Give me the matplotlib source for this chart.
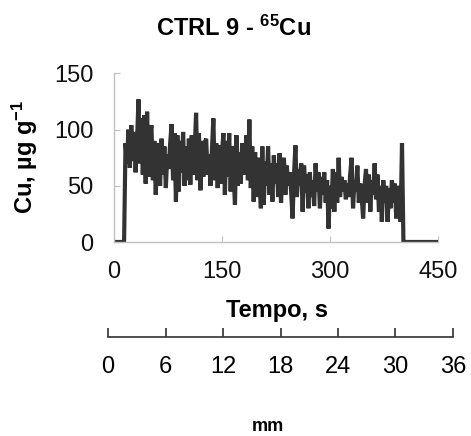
import numpy as np
import matplotlib
matplotlib.use('Agg')
import matplotlib.pyplot as plt

plt.rcParams['font.family'] = ['Liberation Sans', 'DejaVu Sans']
plt.rcParams['mathtext.fontset'] = 'custom'
plt.rcParams['mathtext.rm'] = 'Liberation Sans'
plt.rcParams['mathtext.bf'] = 'Liberation Sans:bold'

# Cu signal (ug/g), one reading every 2 s
cu_signal = [
    88, 70, 100, 66, 104,
    72, 98, 62, 90, 127,
    70, 110, 60, 113, 52,
    116, 58, 95, 104, 55,
    90, 42, 80, 88, 50,
    92, 60, 85, 48, 78,
    65, 88, 105, 55, 97,
    36, 95, 45, 90, 62,
    98, 50, 85, 55, 92,
    51, 95, 60, 80, 115,
    55, 97, 46, 90, 58,
    88, 92, 60, 78, 50,
    82, 110, 55, 88, 48,
    86, 52, 80, 97, 42,
    90, 58, 97, 45, 85,
    62, 33, 95, 50, 80,
    52, 88, 60, 75, 95,
    55, 109, 48, 85, 36,
    80, 40, 75, 55, 30,
    85, 33, 72, 50, 85,
    42, 70, 36, 77, 52,
    70, 40, 79, 35, 65,
    75, 42, 68, 50, 62,
    45, 21, 60, 86, 40,
    65, 50, 70, 27, 68,
    44, 60, 30, 62, 40,
    55, 32, 70, 45, 62,
    30, 58, 42, 62, 35,
    55, 12, 50, 30, 65,
    27, 62, 35, 75, 40,
    58, 45, 55, 38, 52,
    40, 60, 75, 30, 55,
    45, 68, 35, 52, 40,
    21, 50, 65, 35, 60,
    27, 55, 42, 70, 38,
    60, 27, 50, 18, 55,
    35, 50, 18, 48, 30,
    55, 35, 52, 21, 50,
    40, 18, 88,
]
# baseline before ablation starts and after it stops
cu = [0] * 8 + cu_signal + [0] * 25
tempo = np.arange(len(cu)) * 2

x_ticks = [0, 150, 300, 450]
y_ticks = [0, 50, 100, 150]
mm_ticks = [0, 6, 12, 18, 24, 30, 36]

W, H = 471, 436
fig = plt.figure(figsize=(W / 100, H / 100), dpi=100)
ax = fig.add_axes([114 / W, 1 - 242 / H, 324 / W, 168.5 / H])

ax.plot(tempo, cu, color='#333333', linewidth=3.0, solid_joinstyle='miter')

ax.set_xlim(0, 450)
ax.set_ylim(0, 150)
ax.set_xticks(x_ticks)
ax.set_yticks(y_ticks)
for s in ['top', 'right']:
    ax.spines[s].set_visible(False)
for s in ['left', 'bottom']:
    ax.spines[s].set_color('#c0c0c0')
    ax.spines[s].set_linewidth(1.0)
ax.tick_params(direction='in', length=4, color='#c0c0c0', labelsize=17,
               labelcolor='#111111')
ax.tick_params(axis='x', pad=14)
ax.tick_params(axis='y', pad=15)

fig.text(277 / W, 1 - 310 / H, 'Tempo, s', ha='center', va='center',
         fontsize=17, fontweight='bold')
fig.text(25 / W, 1 - 157 / H, r'Cu, µg g$\mathbf{^{-1}}$', ha='center',
         va='center', rotation=90, fontsize=17, fontweight='bold')
fig.text(233 / W, 1 - 28 / H, r'CTRL 9 - $\mathbf{^{65}}$Cu', ha='center',
         va='center', fontsize=17, fontweight='bold')

# second scale in mm under the time axis
ax2 = fig.add_axes([108 / W, 1 - 337 / H, 345 / W, 0.001])
ax2.set_xlim(0, 36)
ax2.set_xticks(mm_ticks)
ax2.set_yticks([])
for s in ['top', 'right', 'left']:
    ax2.spines[s].set_visible(False)
ax2.spines['bottom'].set_color('#404040')
ax2.spines['bottom'].set_linewidth(1.3)
ax2.tick_params(axis='x', direction='in', length=6.5, width=1.3,
                color='#404040', labelsize=17, pad=14)
ax2.patch.set_visible(False)

fig.text(268 / W, 1 - 426 / H, 'mm', ha='center', va='center',
         fontsize=13, fontweight='bold')

fig.savefig('out.png', dpi=100)
